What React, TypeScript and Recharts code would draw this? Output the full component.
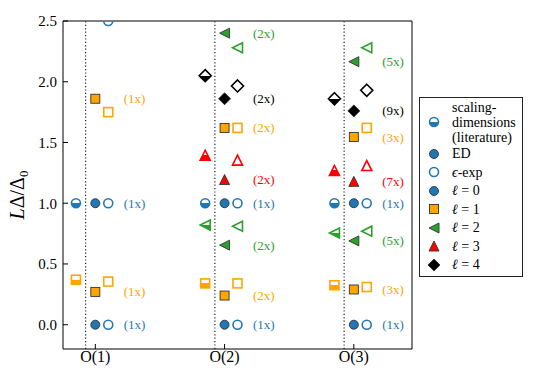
import React from "react";
import { ScatterChart, Scatter, XAxis, YAxis, ReferenceLine } from "recharts";

const FONT = '"Liberation Serif", "DejaVu Serif", serif';

const columns = [1, 2, 3];
const columnLabels = ["O(1)", "O(2)", "O(3)"];
const yTicks = [0, 0.5, 1.0, 1.5, 2.0, 2.5];

// one list per column: O(1), O(2), O(3)
// l = 0 (circles)
const l0Ed = [[0, 1.0], [0, 1.0], [0, 1.0]];
const l0Eps = [[0, 1.0, 2.5], [0, 1.0], [0, 1.0]];
const l0Lit = [[1.0], [1.0], [1.0]];
const l0Mult = ["(1x)", "(1x)", "(1x)"];

// l = 1 (squares)
const l1Ed = [[0.27, 1.86], [0.24, 1.62], [0.29, 1.545]];
const l1Eps = [[0.355, 1.75], [0.34, 1.62], [0.31, 1.62]];
const l1Lit = [[0.37], [0.34], [0.325]];
const l1Mult = ["(1x)", "(2x)", "(3x)"];

// l = 2 (left triangles)
const l2Ed = [[], [0.655, 2.4], [0.69, 2.165]];
const l2Eps = [[], [0.81, 2.28], [0.77, 2.28]];
const l2Lit = [[], [0.82], [0.755]];
const l2Mult = ["", "(2x)", "(5x)"];

// l = 3 (up triangles)
const l3Ed = [[], [1.195], [1.18]];
const l3Eps = [[], [1.355], [1.31]];
const l3Lit = [[], [1.395], [1.27]];
const l3Mult = ["", "(2x)", "(7x)"];

// l = 4 (diamonds)
const l4Ed = [[], [1.86], [1.76]];
const l4Eps = [[], [1.965], [1.93]];
const l4Lit = [[], [2.05], [1.86]];
const l4Mult = ["", "(2x)", "(9x)"];

// horizontal offsets inside a column
const LIT_OFFSET = -0.15;
const DOT_OFFSET = -0.075;
const EPS_OFFSET = 0.1;
const LABEL_OFFSET = 0.22;

type Kind = "circle" | "square" | "triLeft" | "triUp" | "diamond";
type Mode = "ed" | "eps" | "lit";

const groups: { key: string; kind: Kind; color: string; ed: number[][]; eps: number[][]; lit: number[][]; mult: string[] }[] = [
  { key: "l0", kind: "circle", color: "#1f77b4", ed: l0Ed, eps: l0Eps, lit: l0Lit, mult: l0Mult },
  { key: "l1", kind: "square", color: "#ffa500", ed: l1Ed, eps: l1Eps, lit: l1Lit, mult: l1Mult },
  { key: "l2", kind: "triLeft", color: "#2ca02c", ed: l2Ed, eps: l2Eps, lit: l2Lit, mult: l2Mult },
  { key: "l3", kind: "triUp", color: "#ff0000", ed: l3Ed, eps: l3Eps, lit: l3Lit, mult: l3Mult },
  { key: "l4", kind: "diamond", color: "#000000", ed: l4Ed, eps: l4Eps, lit: l4Lit, mult: l4Mult },
];

const toPoints = (vals: number[][], offset: number) =>
  vals.flatMap((list, i) => list.map((y) => ({ x: columns[i] + offset, y })));

const toLabels = (vals: number[][], mult: string[]) =>
  vals.flatMap((list, i) => list.map((y) => ({ x: columns[i] + LABEL_OFFSET, y, text: mult[i] })));

function Marker({ kind, mode, color, cx, cy }: { kind: Kind; mode: Mode; color: string; cx: number; cy: number }) {
  const gid = `half-${color.slice(1)}`;
  const fill = mode === "ed" ? color : mode === "eps" ? "none" : `url(#${gid})`;
  const stroke = mode === "ed" ? "#333" : color;
  const sw = mode === "ed" ? 0.9 : 1.6;
  const common = { fill, stroke, strokeWidth: sw };
  let shape: React.ReactNode = null;
  if (kind === "circle") {
    shape = <circle cx={cx} cy={cy} r={4.5} {...common} />;
  } else if (kind === "square") {
    shape = <rect x={cx - 4.5} y={cy - 4.5} width={9} height={9} {...common} />;
  } else if (kind === "triLeft") {
    const r = 5;
    shape = <polygon points={`${cx - r},${cy} ${cx + r},${cy - r} ${cx + r},${cy + r}`} {...common} />;
  } else if (kind === "triUp") {
    const r = 5;
    shape = <polygon points={`${cx},${cy - r} ${cx - r},${cy + r} ${cx + r},${cy + r}`} {...common} />;
  } else {
    const r = 6;
    shape = <polygon points={`${cx},${cy - r} ${cx + r},${cy} ${cx},${cy + r} ${cx - r},${cy}`} {...common} />;
  }
  return (
    <g>
      {mode === "lit" && (
        <defs>
          <linearGradient id={gid} x1="0" y1="0" x2="0" y2="1">
            <stop offset="50%" stopColor="#fff" />
            <stop offset="50%" stopColor={color} />
          </linearGradient>
        </defs>
      )}
      {shape}
    </g>
  );
}

const legendRows: { kind: Kind; mode: Mode; color: string; label: React.ReactNode; tall?: boolean }[] = [
  { kind: "circle", mode: "lit", color: "#1f77b4", label: <>scaling-<br />dimensions<br />(literature)</>, tall: true },
  { kind: "circle", mode: "ed", color: "#1f77b4", label: "ED" },
  { kind: "circle", mode: "eps", color: "#1f77b4", label: <><i>ϵ</i>-exp</> },
  { kind: "circle", mode: "ed", color: "#1f77b4", label: <><i>ℓ</i> = 0</> },
  { kind: "square", mode: "ed", color: "#ffa500", label: <><i>ℓ</i> = 1</> },
  { kind: "triLeft", mode: "ed", color: "#2ca02c", label: <><i>ℓ</i> = 2</> },
  { kind: "triUp", mode: "ed", color: "#ff0000", label: <><i>ℓ</i> = 3</> },
  { kind: "diamond", mode: "ed", color: "#000000", label: <><i>ℓ</i> = 4</> },
];

function LegendBox() {
  return (
    <div
      style={{
        position: "absolute",
        left: 419,
        top: 97,
        width: 104,
        boxSizing: "border-box",
        border: "1px solid #222",
        background: "#fff",
        padding: "1.5px 0 2px 0",
        fontFamily: FONT,
        fontSize: 14,
        color: "#000",
      }}
    >
      {legendRows.map((r, i) => (
        <div key={i} style={{ display: "flex", alignItems: "center", height: r.tall ? 45 : 18.5 }}>
          <svg width={16} height={16} style={{ marginLeft: 6, flexShrink: 0 }}>
            <Marker kind={r.kind} mode={r.mode} color={r.color} cx={8} cy={8} />
          </svg>
          <div style={{ marginLeft: 10, lineHeight: "15px", whiteSpace: "nowrap" }}>{r.label}</div>
        </div>
      ))}
    </div>
  );
}

const YLabel = () => (
  <text transform="rotate(-90, 24, 195)" x={24} y={195} textAnchor="middle" fontFamily={FONT} fontSize={20} fill="#000">
    <tspan fontStyle="italic">L</tspan>
    <tspan>Δ/Δ</tspan>
    <tspan fontSize={13} dy={4}>0</tspan>
  </text>
);

export default function App() {
  const tickStyle = { fill: "#000", fontSize: 15, fontFamily: FONT };
  return (
    <div style={{ position: "absolute", left: 0, top: 0, width: 534, height: 382, background: "#fff" }}>
      <ScatterChart width={534} height={382} margin={{ top: 20, right: 121, bottom: 0, left: 0 }}>
        <XAxis
          type="number"
          dataKey="x"
          domain={[0.75, 3.45]}
          ticks={columns}
          allowDataOverflow
          height={33}
          tickFormatter={(v: number) => columnLabels[columns.indexOf(v)] ?? ""}
          tick={{ ...tickStyle, fontSize: 16 }}
          tickSize={-5}
          tickMargin={7}
          axisLine={{ stroke: "#000" }}
          tickLine={{ stroke: "#000" }}
        />
        <XAxis
          xAxisId="top"
          orientation="top"
          type="number"
          dataKey="x"
          domain={[0.75, 3.45]}
          ticks={columns}
          allowDataOverflow
          height={1}
          tick={false}
          tickSize={-5}
          axisLine={{ stroke: "#000" }}
          tickLine={{ stroke: "#000" }}
        />
        <YAxis
          type="number"
          dataKey="y"
          domain={[-0.2, 2.5]}
          ticks={yTicks}
          allowDataOverflow
          width={63}
          tickFormatter={(v: number) => v.toFixed(1)}
          tick={tickStyle}
          tickSize={-5}
          tickMargin={11}
          axisLine={{ stroke: "#000" }}
          tickLine={{ stroke: "#000" }}
          label={{ content: () => <YLabel /> }}
        />
        <YAxis
          yAxisId="right"
          orientation="right"
          type="number"
          dataKey="y"
          domain={[-0.2, 2.5]}
          ticks={yTicks}
          allowDataOverflow
          width={1}
          tick={false}
          tickSize={-5}
          axisLine={{ stroke: "#000" }}
          tickLine={{ stroke: "#000" }}
        />
        {columns.map((c) => (
          <ReferenceLine key={`dot-${c}`} x={c + DOT_OFFSET} stroke="#222" strokeWidth={1.2} strokeDasharray="1.2 2.2" />
        ))}
        {groups.flatMap((g) => [
          <Scatter
            key={`${g.key}-lit`}
            data={toPoints(g.lit, LIT_OFFSET)}
            isAnimationActive={false}
            shape={(p: any) => <Marker kind={g.kind} mode="lit" color={g.color} cx={p.cx} cy={p.cy} />}
          />,
          <Scatter
            key={`${g.key}-ed`}
            data={toPoints(g.ed, 0)}
            isAnimationActive={false}
            shape={(p: any) => <Marker kind={g.kind} mode="ed" color={g.color} cx={p.cx} cy={p.cy} />}
          />,
          <Scatter
            key={`${g.key}-eps`}
            data={toPoints(g.eps, EPS_OFFSET)}
            isAnimationActive={false}
            shape={(p: any) => <Marker kind={g.kind} mode="eps" color={g.color} cx={p.cx} cy={p.cy} />}
          />,
          <Scatter
            key={`${g.key}-mult`}
            xAxisId="top"
            yAxisId="right"
            data={toLabels(g.ed, g.mult)}
            isAnimationActive={false}
            shape={(p: any) => (
              <text x={p.cx} y={p.cy} dy="0.35em" fill={g.color} fontSize={13} fontFamily={FONT}>
                {p.payload.text}
              </text>
            )}
          />,
        ])}
      </ScatterChart>
      <LegendBox />
    </div>
  );
}
